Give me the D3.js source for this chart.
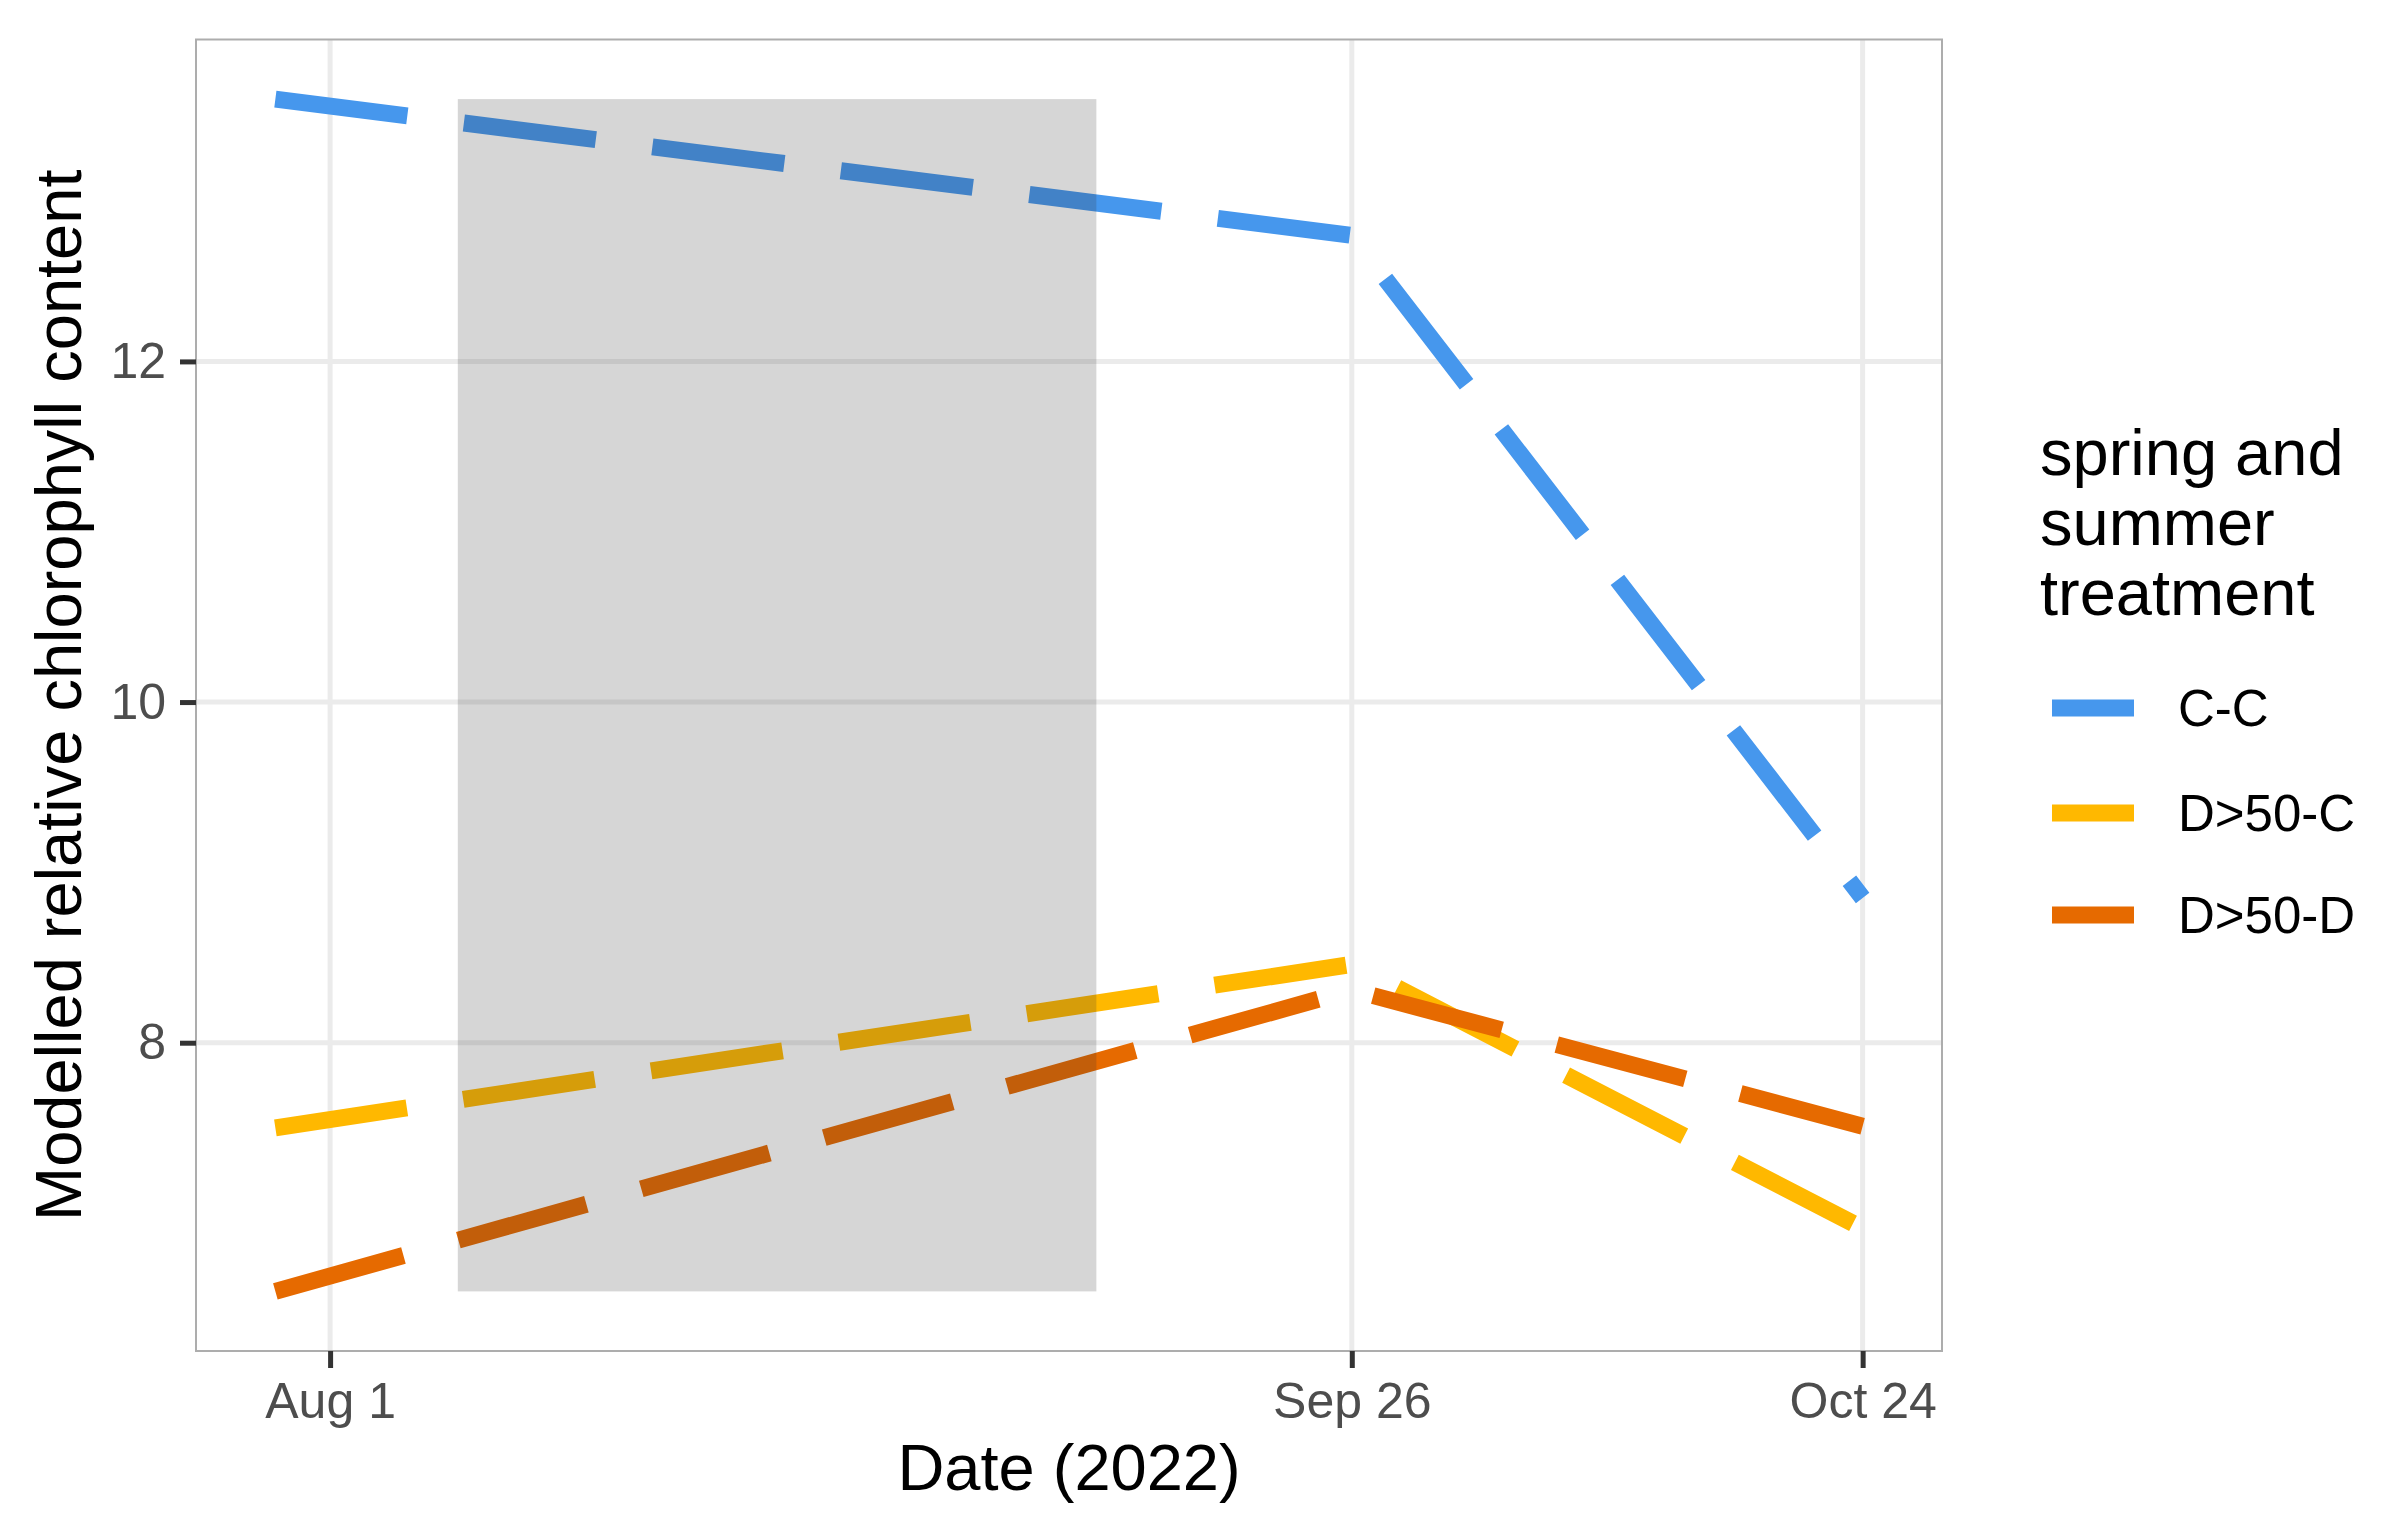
<!DOCTYPE html>
<html>
<head>
<meta charset="utf-8">
<script src="https://cdn.jsdelivr.net/npm/d3@7"></script>
<style>
  body { margin: 0; background: #fff; }
  text { font-family: "Liberation Sans", Arial, sans-serif; }
</style>
</head>
<body>
<script>
// data
const dates = ["2022-07-29", "2022-09-26", "2022-10-24"];
const seriesNames = ["C-C", "D>50-C", "D>50-D"];
const valuesCC = [13.54, 12.74, 8.85];
const valuesDC = [7.50, 8.46, 6.91];
const valuesDD = [6.54, 8.31, 7.51];
const seriesColors = ["#4697ED", "#FFB800", "#E66A00"];
const xTickDates = ["2022-08-01", "2022-09-26", "2022-10-24"];
const xTickLabels = ["Aug 1", "Sep 26", "Oct 24"];
const yTicks = [8, 10, 12];
const shadeWindow = ["2022-08-08", "2022-09-12"];
const legendTitle = ["spring and", "summer", "treatment"];

const W = 2382, H = 1524;
const panel = { left: 196, right: 1942, top: 39.5, bottom: 1351 };
const dash = "133,57";

const parse = d3.utcParse("%Y-%m-%d");
const dateVals = dates.map(parse);
const series = [valuesCC, valuesDC, valuesDD].map((vals, i) => ({
  name: seriesNames[i],
  color: seriesColors[i],
  points: vals.map((v, j) => ({ date: dateVals[j], value: v }))
}));

const svg = d3.select("body").append("svg")
  .attr("width", W).attr("height", H)
  .style("background-color", "#fff");

// scales with ggplot-style 5% expansion
const xExt = d3.extent(dateVals);
const xPad = (xExt[1] - xExt[0]) * 0.05;
const x = d3.scaleUtc()
  .domain([new Date(+xExt[0] - xPad), new Date(+xExt[1] + xPad)])
  .range([panel.left, panel.right]);

const allVals = [].concat(valuesCC, valuesDC, valuesDD);
const yExt = d3.extent(allVals);
const yPad = (yExt[1] - yExt[0]) * 0.05;
const y = d3.scaleLinear()
  .domain([yExt[0] - yPad, yExt[1] + yPad])
  .range([panel.bottom, panel.top]);

// grid
const grid = svg.append("g");
grid.selectAll(".gy").data(yTicks).enter().append("line")
  .attr("x1", panel.left).attr("x2", panel.right)
  .attr("y1", d => y(d)).attr("y2", d => y(d))
  .attr("stroke", "#EBEBEB").attr("stroke-width", 5);
grid.selectAll(".gx").data(xTickDates.map(parse)).enter().append("line")
  .attr("y1", panel.top).attr("y2", panel.bottom)
  .attr("x1", d => x(d)).attr("x2", d => x(d))
  .attr("stroke", "#EBEBEB").attr("stroke-width", 5);

// lines
const line = d3.line()
  .x(d => x(d.date))
  .y(d => y(d.value));

svg.append("g").selectAll("path")
  .data(series)
  .enter().append("path")
  .attr("d", d => line(d.points))
  .attr("fill", "none")
  .attr("stroke", d => d.color)
  .attr("stroke-width", 17)
  .attr("stroke-dasharray", dash)
  .attr("stroke-linecap", "butt")
  .attr("stroke-linejoin", "miter");

// shaded period drawn on top
svg.append("rect")
  .attr("x", x(parse(shadeWindow[0])))
  .attr("width", x(parse(shadeWindow[1])) - x(parse(shadeWindow[0])))
  .attr("y", y(yExt[1]))
  .attr("height", y(yExt[0]) - y(yExt[1]))
  .attr("fill", "#333333")
  .attr("fill-opacity", 0.2);

// panel border
svg.append("rect")
  .attr("x", panel.left).attr("y", panel.top)
  .attr("width", panel.right - panel.left)
  .attr("height", panel.bottom - panel.top)
  .attr("fill", "none")
  .attr("stroke", "#ADADAD")
  .attr("stroke-width", 2);

// axes
const xAxis = svg.append("g")
  .attr("transform", `translate(0,${panel.bottom})`)
  .call(d3.axisBottom(x)
    .tickValues(xTickDates.map(parse))
    .tickFormat((d, i) => xTickLabels[i])
    .tickSize(17)
    .tickPadding(14.5));

const yAxis = svg.append("g")
  .attr("transform", `translate(${panel.left},0)`)
  .call(d3.axisLeft(y)
    .tickValues(yTicks)
    .tickFormat(d3.format("d"))
    .tickSize(16)
    .tickPadding(14));

[xAxis, yAxis].forEach(a => {
  a.select(".domain").remove();
  a.selectAll(".tick line").attr("stroke", "#333333").attr("stroke-width", 5);
  a.selectAll(".tick text")
    .attr("fill", "#4D4D4D")
    .style("font-size", "50px")
    .style("font-family", "'Liberation Sans', Arial, sans-serif");
});

// axis titles
svg.append("text")
  .attr("x", (panel.left + panel.right) / 2)
  .attr("y", 1490)
  .attr("text-anchor", "middle")
  .style("font-size", "65px")
  .attr("fill", "#000")
  .text("Date (2022)");

svg.append("text")
  .attr("transform", `translate(81,${(panel.top + panel.bottom) / 2}) rotate(-90)`)
  .attr("text-anchor", "middle")
  .style("font-size", "65px")
  .attr("fill", "#000")
  .text("Modelled relative chlorophyll content");

// legend
const legend = svg.append("g");
legend.selectAll(".lt").data(legendTitle).enter().append("text")
  .attr("x", 2040)
  .attr("y", (d, i) => 475 + i * 70)
  .style("font-size", "65px")
  .attr("fill", "#000")
  .text(d => d);

const keyY = [708, 813, 915];
const keys = legend.selectAll(".key").data(series).enter().append("g")
  .attr("transform", (d, i) => `translate(0,${keyY[i]})`);
keys.append("line")
  .attr("x1", 2052).attr("x2", 2134)
  .attr("y1", 0).attr("y2", 0)
  .attr("stroke", d => d.color)
  .attr("stroke-width", 17)
  .attr("stroke-dasharray", dash);
keys.append("text")
  .attr("x", 2178)
  .attr("dy", "0.35em")
  .style("font-size", "51px")
  .attr("fill", "#000")
  .text(d => d.name);
</script>
</body>
</html>
